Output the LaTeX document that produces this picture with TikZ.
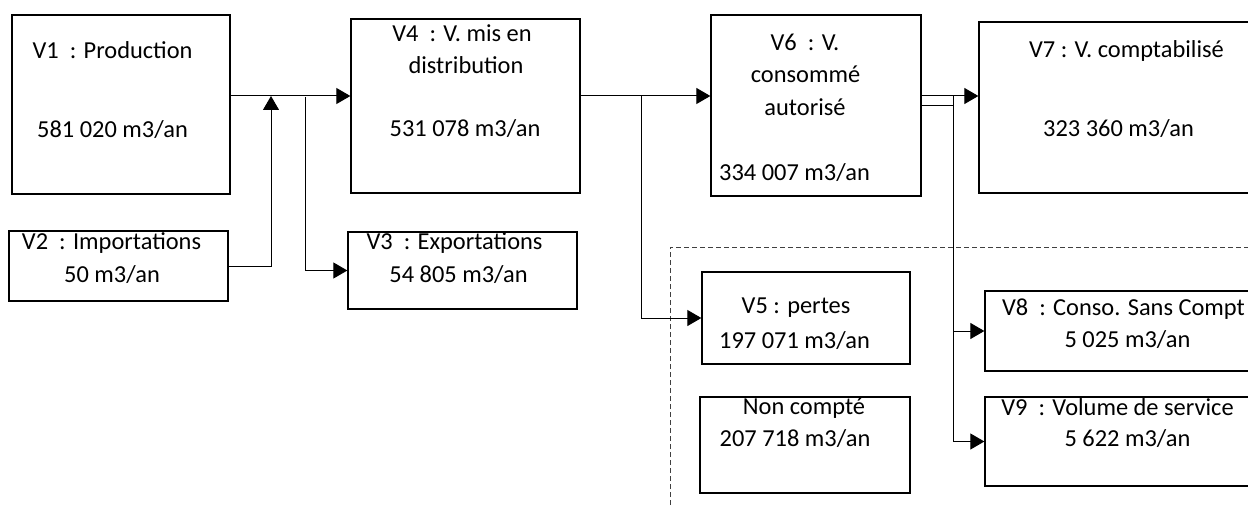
\documentclass[tikz,border=0pt]{standalone}
\usepackage{fontspec}
\setmainfont{Carlito}
\usetikzlibrary{arrows.meta,positioning,calc}

\begin{document}
\begin{tikzpicture}[x=1pt, y=-1pt,
  box/.style={rectangle, draw, line width=1.3pt, inner sep=0pt},
  txt/.style={anchor=base, inner sep=0pt, font=\fontsize{24.4}{29}\selectfont},
  link/.style={line width=1pt},
  flow/.style={line width=1pt, -{Triangle[length=14pt, width=16pt]}}]
\useasboundingbox (0,0) rectangle (1248,508);
% boxes
\node[box, minimum width=218pt, minimum height=179pt] (V1) at (121,104.5) {};
\node[box, minimum width=219pt, minimum height=70pt] (V2) at (118.5,266) {};
\node[box, minimum width=229pt, minimum height=174pt] (V4) at (465.5,106) {};
\node[box, minimum width=229pt, minimum height=77pt] (V3) at (462.5,270.5) {};
\node[box, minimum width=210pt, minimum height=181pt] (V6) at (816,105.5) {};
\node[box, minimum width=273pt, minimum height=171pt] (V7) at (1115.5,107.5) {};
\node[box, minimum width=208pt, minimum height=92pt] (V5) at (806,318) {};
\node[box, minimum width=210pt, minimum height=96pt] (NC) at (805,445) {};
\node[box, minimum width=267pt, minimum height=80pt] (V8) at (1118.5,331) {};
\node[box, minimum width=267pt, minimum height=89pt] (V9) at (1118.5,441.5) {};
% texts
\node[txt] (v1a) at (112.5,59) {V1~~: Production};
\node[txt] (v1b) at (112.5,138) {581 020 m3/an};
\node[txt] (v2a) at (111.5,249) {V2~~: Importations};
\node[txt] (v2b) at (112,282) {50 m3/an};
\node[txt] (v4a) at (462,42) {V4~~: V. mis en};
\node[txt] (v4b) at (466,74) {distribution};
\node[txt] (v4c) at (465,137) {531 078 m3/an};
\node[txt] (v3a) at (454.5,249) {V3~~: Exportations};
\node[txt] (v3b) at (458.5,282) {54 805 m3/an};
\node[txt] (v6a) at (805,51) {V6~~: V.};
\node[txt] (v6b) at (805.5,83) {consommé};
\node[txt] (v6c) at (805,116) {autorisé};
\node[txt] (v6d) at (794.5,180) {334 007 m3/an};
\node[txt] (v7a) at (1126.5,58) {V7 : V. comptabilisé};
\node[txt] (v7b) at (1118.5,137) {323 360 m3/an};
\node[txt] (v5a) at (796,313) {V5 : pertes};
\node[txt] (v5b) at (794.5,348) {197 071 m3/an};
\node[txt] (nca) at (804,414) {Non compté};
\node[txt] (ncb) at (795,446) {207 718 m3/an};
\node[txt] (v8a) at (1123.5,315) {V8~~: Conso. Sans Compt};
\node[txt] (v8b) at (1127.5,347) {5 025 m3/an};
\node[txt] (v9a) at (1117.5,415) {V9~~: Volume de service};
\node[txt] (v9b) at (1127.5,446) {5 622 m3/an};
% junctions
\coordinate (j1) at (271,96);
\coordinate (j2) at (305,97);
\coordinate (j3) at (641,96);
\coordinate (j4) at (953,96);
\coordinate (j5) at (953,106);
% dashed frame
\draw[dashed, dash pattern=on 5pt off 3pt, line width=1pt, black!75] (670,505) |- (1252,247);
% flows
\draw[flow] (V1.east |- j1) -- (V4.west |- j1);
\draw[flow] (V2.east) -| (j1);
\draw[flow] (j2) |- (V3.west);
\draw[flow] (V4.east |- j1) -- (V6.west |- j1);
\draw[flow] (j3) |- (V5.west);
\draw[flow] (V6.east |- j4) -- (V7.west |- j4);
\draw[link] (V6.east |- j5) -- (j5);
\draw[flow] (j4) |- (V9.west);
\draw[flow] (j4 |- V8.west) -- (V8.west);
\end{tikzpicture}
\end{document}
